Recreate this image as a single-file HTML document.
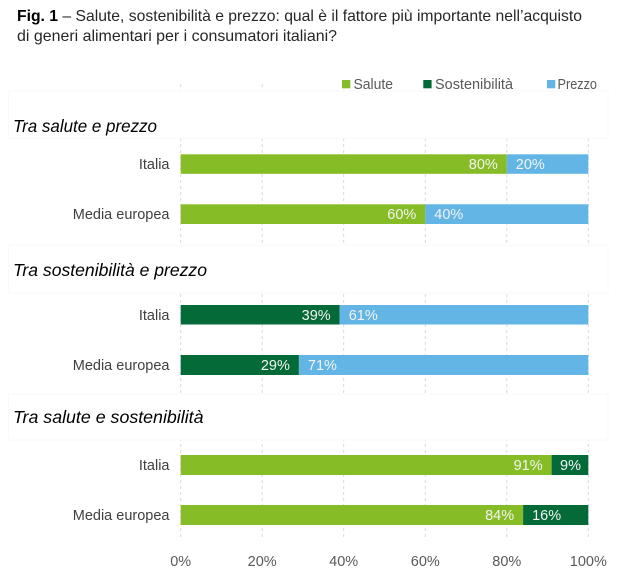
<!DOCTYPE html>
<html>
<head>
<meta charset="utf-8">
<style>
  html, body { margin: 0; padding: 0; background: #ffffff; }
  svg { display: block; }
  text { font-family: "Liberation Sans", "DejaVu Sans", sans-serif; }
</style>
</head>
<body>
<svg width="622" height="574" viewBox="0 0 622 574" xmlns="http://www.w3.org/2000/svg">
  <rect x="0" y="0" width="622" height="574" fill="#ffffff"/>

  <!-- Title -->
  <text x="17" y="21" font-size="16" fill="#262626" textLength="565" lengthAdjust="spacingAndGlyphs"><tspan font-weight="bold" fill="#000">Fig. 1</tspan> – Salute, sostenibilità e prezzo: qual è il fattore più importante nell’acquisto</text>
  <text x="17" y="41" font-size="16" fill="#262626" textLength="320" lengthAdjust="spacingAndGlyphs">di generi alimentari per i consumatori italiani?</text>

  <!-- Gridlines -->
  <g stroke="#d9d9d9" stroke-width="1" stroke-dasharray="3,3">
    <line x1="180.7" y1="84" x2="180.7" y2="538"/>
    <line x1="262.2" y1="84" x2="262.2" y2="538"/>
    <line x1="343.7" y1="84" x2="343.7" y2="538"/>
    <line x1="425.3" y1="84" x2="425.3" y2="538"/>
    <line x1="506.8" y1="84" x2="506.8" y2="538"/>
    <line x1="588.3" y1="84" x2="588.3" y2="538"/>
  </g>

  <!-- Legend background -->
  <rect x="336" y="70" width="272" height="20" fill="#ffffff"/>
  <rect x="342" y="80" width="8.3" height="8.3" fill="#86bc25"/>
  <text x="353.5" y="89" font-size="14.5" fill="#595959" textLength="39.5" lengthAdjust="spacingAndGlyphs">Salute</text>
  <rect x="423.3" y="80" width="8.3" height="8.3" fill="#046a38"/>
  <text x="435" y="89" font-size="14.5" fill="#595959" textLength="78" lengthAdjust="spacingAndGlyphs">Sostenibilità</text>
  <rect x="547" y="80" width="8.3" height="8.3" fill="#62b5e5"/>
  <text x="557.5" y="89" font-size="14.5" fill="#595959" textLength="39.5" lengthAdjust="spacingAndGlyphs">Prezzo</text>

  <!-- Section title boxes -->
  <rect x="8.5" y="91" width="599.5" height="47" fill="#ffffff" stroke="#f9f9f9" stroke-width="1"/>
  <rect x="8.5" y="245" width="599.5" height="48" fill="#ffffff" stroke="#f9f9f9" stroke-width="1"/>
  <rect x="8.5" y="394" width="599.5" height="46" fill="#ffffff" stroke="#f9f9f9" stroke-width="1"/>

  <text x="13" y="132" font-size="17.5" font-style="italic" fill="#000" textLength="144" lengthAdjust="spacingAndGlyphs">Tra salute e prezzo</text>
  <text x="13" y="276" font-size="17.5" font-style="italic" fill="#000" textLength="194" lengthAdjust="spacingAndGlyphs">Tra sostenibilità e prezzo</text>
  <text x="13" y="423" font-size="17.5" font-style="italic" fill="#000" textLength="190.5" lengthAdjust="spacingAndGlyphs">Tra salute e sostenibilità</text>

  <!-- Category labels -->
  <g font-size="14.5" fill="#404040" text-anchor="end">
    <text x="169.5" y="169">Italia</text>
    <text x="169.5" y="219">Media europea</text>
    <text x="169.5" y="320">Italia</text>
    <text x="169.5" y="370">Media europea</text>
    <text x="169.5" y="470">Italia</text>
    <text x="169.5" y="520">Media europea</text>
  </g>

  <!-- Section 1 bars -->
  <rect x="180.7" y="154.3" width="326.1" height="19.5" fill="#86bc25"/>
  <rect x="506.8" y="154.3" width="81.5" height="19.5" fill="#62b5e5"/>
  <rect x="180.7" y="204.3" width="244.6" height="19.7" fill="#86bc25"/>
  <rect x="425.3" y="204.3" width="163" height="19.7" fill="#62b5e5"/>

  <!-- Section 2 bars -->
  <rect x="180.7" y="305" width="159" height="19.5" fill="#046a38"/>
  <rect x="339.7" y="305" width="248.6" height="19.5" fill="#62b5e5"/>
  <rect x="180.7" y="355" width="118.2" height="20" fill="#046a38"/>
  <rect x="298.9" y="355" width="289.4" height="20" fill="#62b5e5"/>

  <!-- Section 3 bars -->
  <rect x="180.7" y="455" width="370.9" height="20" fill="#86bc25"/>
  <rect x="551.6" y="455" width="36.7" height="20" fill="#046a38"/>
  <rect x="180.7" y="505" width="342.4" height="20" fill="#86bc25"/>
  <rect x="523.1" y="505" width="65.2" height="20" fill="#046a38"/>

  <!-- Value labels -->
  <g font-size="14.5" fill="#f4f4f4">
    <text x="497.8" y="169" text-anchor="end">80%</text>
    <text x="515.8" y="169">20%</text>
    <text x="416.3" y="219" text-anchor="end">60%</text>
    <text x="434.3" y="219">40%</text>

    <text x="330.7" y="320" text-anchor="end">39%</text>
    <text x="348.7" y="320">61%</text>
    <text x="289.9" y="370" text-anchor="end">29%</text>
    <text x="307.9" y="370">71%</text>

    <text x="542.6" y="470" text-anchor="end">91%</text>
    <text x="560" y="470">9%</text>
    <text x="514.1" y="520" text-anchor="end">84%</text>
    <text x="532.1" y="520">16%</text>
  </g>

  <!-- Axis labels -->
  <g font-size="14.5" fill="#595959" text-anchor="middle">
    <text x="180.7" y="566">0%</text>
    <text x="262.2" y="566">20%</text>
    <text x="343.7" y="566">40%</text>
    <text x="425.3" y="566">60%</text>
    <text x="506.8" y="566">80%</text>
    <text x="588.3" y="566">100%</text>
  </g>
</svg>
</body>
</html>
